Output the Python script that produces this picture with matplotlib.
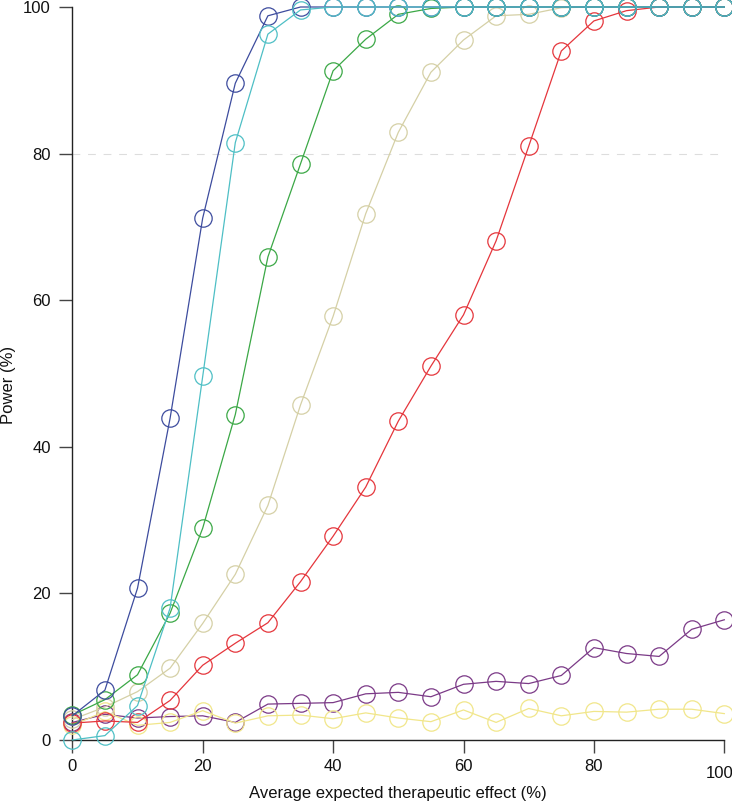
import matplotlib
matplotlib.use("Agg")
import matplotlib.pyplot as plt

plt.rcParams['font.family'] = ['Liberation Sans', 'DejaVu Sans']

effect = [0, 5, 10, 15, 20, 25, 30, 35, 40, 45, 50, 55, 60, 65, 70, 75, 80, 85, 90, 95, 100]

purple = [2.4, 3.5, 3.0, 3.2, 3.3, 2.4, 4.9, 5.0, 5.1, 6.3, 6.5, 5.9, 7.6, 8.0, 7.7, 8.8, 12.6, 11.8, 11.4, 15.1, 16.4]
yellow = [2.0, 3.9, 2.0, 2.4, 4.0, 2.3, 3.3, 3.4, 2.9, 3.7, 3.0, 2.5, 4.1, 2.4, 4.3, 3.3, 3.9, 3.8, 4.2, 4.2, 3.6]
tan = [2.8, 4.5, 6.6, 9.8, 15.9, 22.6, 32.0, 45.7, 57.8, 71.8, 82.9, 91.1, 95.5, 98.8, 99.0, 99.9, 100, 100, 100, 100, 100]
red = [2.3, 2.6, 2.4, 5.4, 10.2, 13.2, 16.0, 21.6, 27.8, 34.5, 43.5, 51.0, 58.0, 68.1, 81.0, 94.0, 98.1, 99.5, 100, 100, 100]
green = [3.4, 5.5, 8.9, 17.3, 28.9, 44.4, 65.9, 78.6, 91.3, 95.6, 99.0, 99.8, 100, 100, 100, 100, 100, 100, 100, 100, 100]
blue = [3.3, 6.8, 20.7, 43.9, 71.2, 89.6, 98.8, 100, 100, 100, 100, 100, 100, 100, 100, 100, 100, 100, 100, 100, 100]
cyan = [0.0, 0.6, 4.7, 18.0, 49.6, 81.5, 96.3, 99.6, 100, 100, 100, 100, 100, 100, 100, 100, 100, 100, 100, 100, 100]

series = [
    (purple, '#7B3A87'),
    (yellow, '#F1E68A'),
    (tan, '#D5D0A6'),
    (red, '#E5363C'),
    (green, '#3BA846'),
    (blue, '#3D4C9E'),
    (cyan, '#4EBFC5'),
]

ticks = [0, 20, 40, 60, 80, 100]

fig = plt.figure(figsize=(7.32, 8.06), dpi=100)
ax = fig.add_axes([72.3/732, 1-740/806, (724.3-72.3)/732, (740-7)/806])

ax.axhline(80, color='#DDDDDD', lw=0.8, dashes=[7, 7], zorder=1)

for vals, col in series:
    ax.plot(effect, vals, color=col, lw=0.9, marker='o', markersize=12.5,
            markerfacecolor='none', markeredgecolor=col, markeredgewidth=0.9,
            clip_on=False, zorder=3)

ax.set_xlim(0, 100)
ax.set_ylim(0, 100)
ax.set_xticks(ticks)
ax.set_yticks(ticks)
ax.set_xticklabels([str(t) if t != 100 else '' for t in ticks])
ax.set_yticklabels([str(t) for t in ticks])
for s in ['top', 'right']:
    ax.spines[s].set_visible(False)
ax.spines['left'].set_bounds(0, 100)
ax.spines['bottom'].set_bounds(0, 100)
for s in ['left', 'bottom']:
    ax.spines[s].set_linewidth(1.0)
    ax.spines[s].set_color('#222222')
ax.tick_params(axis='both', direction='out', length=9.5, width=1.0, color='#444444',
               labelsize=12, labelcolor='#111111')
ax.tick_params(axis='y', pad=6)
ax.tick_params(axis='x', pad=4)

# last x tick label sits slightly lower and left in the reference
ax.annotate(str(ticks[-1]), xy=(ticks[-1], 0), xycoords='data',
            xytext=(-5, -26), textcoords='offset pixels',
            ha='center', va='top', fontsize=12, color='#111111',
            annotation_clip=False)

ax.set_xlabel('Average expected therapeutic effect (%)', fontsize=12, color='#111111', labelpad=9)
ax.set_ylabel('Power (%)', fontsize=12, color='#111111', va='center')
ax.yaxis.set_label_coords((9 - 72.3) / 652, (740 - 385) / 733)

fig.savefig('out.png', dpi=100)
